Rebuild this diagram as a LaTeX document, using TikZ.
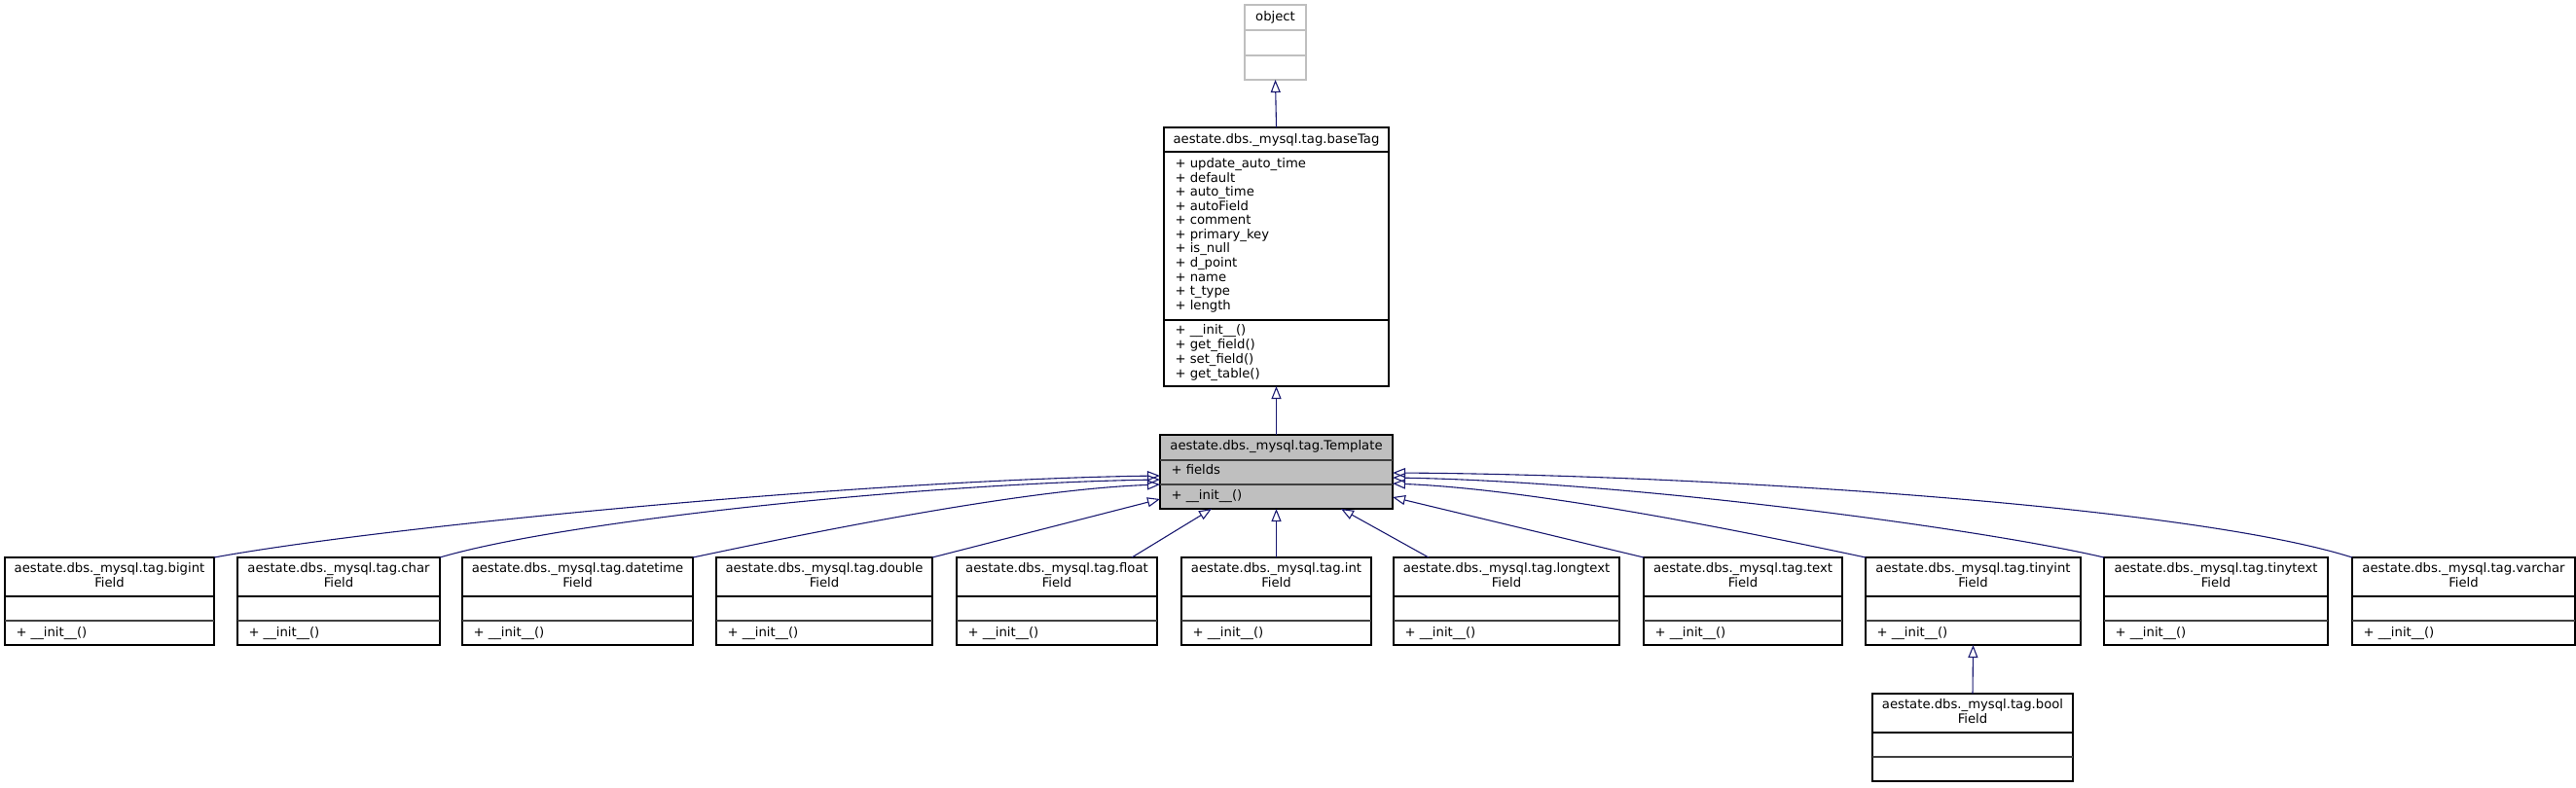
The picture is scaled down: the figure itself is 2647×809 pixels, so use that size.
\documentclass[tikz,border=0pt]{standalone}
\usepackage{fontspec}
\setmainfont{DejaVu Sans}
\usetikzlibrary{arrows.meta,calc}
\definecolor{edgeblue}{HTML}{191970}
\definecolor{tmplgray}{HTML}{BFBFBF}
\definecolor{objgray}{HTML}{BFBFBF}
\definecolor{divgray}{HTML}{404040}
\tikzset{
  cbox/.style={draw=black, line width=1.1pt, rectangle, inner sep=0pt, outer sep=0pt, anchor=north west},
  divline/.style={line width=1.1pt, draw=black},
  divline2/.style={line width=1.1pt, draw=divgray},
  txt/.style={inner sep=0pt, outer sep=0pt, font=\fontsize{13.2}{14.6}\selectfont},
  inherit/.style={draw=edgeblue, line width=1.1pt, -{Triangle[open, length=13pt, width=10pt]}},
}
\newcommand{\fieldbox}[5]{%
  \node[cbox, minimum width={#3-#2}, minimum height=90] (#1) at (#2,-#4) {};
  \draw[divline] ($(#1.north west)+(0,-40)$) -- ($(#1.north east)+(0,-40)$);
  \draw[divline2] ($(#1.north west)+(0,-65)$) -- ($(#1.north east)+(0,-65)$);
  \node[txt, anchor=base] (#1-t1) at ($(#1.north)+(0,-15.5)$) {aestate.dbs.\_mysql.tag.#5};
  \node[txt, anchor=base] (#1-t2) at ($(#1.north)+(0,-30)$) {Field};
}
\newcommand{\fieldmethod}[1]{%
  \node[txt, anchor=base west] (#1-m) at ($(#1.north west)+(11.5,-81)$) {+ \_\_init\_\_()};
}
\begin{document}
\begin{tikzpicture}[x=1pt,y=1pt]
\useasboundingbox (0,0) rectangle (2647,-809);

% object
\node[cbox, draw=objgray, minimum width=63, minimum height=77] (object) at (1279,-5) {};
\draw[line width=1.1pt, draw=objgray] ($(object.north west)+(0,-26)$) -- ($(object.north east)+(0,-26)$);
\draw[line width=1.1pt, draw=objgray] ($(object.north west)+(0,-52)$) -- ($(object.north east)+(0,-52)$);
\node[txt, anchor=base] (object-t) at ($(object.north)+(0,-16)$) {object};

% baseTag
\node[cbox, minimum width=231, minimum height=266] (basetag) at (1196,-131) {};
\draw[divline] ($(basetag.north west)+(0,-25)$) -- ($(basetag.north east)+(0,-25)$);
\draw[divline] ($(basetag.north west)+(0,-198)$) -- ($(basetag.north east)+(0,-198)$);
\node[txt, anchor=base] (basetag-t) at ($(basetag.north)+(0,-16)$) {aestate.dbs.\_mysql.tag.baseTag};
\foreach \t [count=\i from 0] in {update\_auto\_time, default, auto\_time, autoField, comment, primary\_key, is\_null, d\_point, name, t\_type, length}
  \node[txt, anchor=base west] (basetag-a\i) at ($(basetag.north west)+(11.5,{-41.5-14.57*\i})$) {+ \t};
\foreach \t [count=\i from 0] in {\_\_init\_\_(), get\_field(), set\_field(), get\_table()}
  \node[txt, anchor=base west] (basetag-m\i) at ($(basetag.north west)+(11.5,{-212.5-14.9*\i})$) {+ \t};

% Template
\node[cbox, fill=tmplgray, minimum width=239, minimum height=76] (tmpl) at (1192,-447) {};
\draw[divline2] ($(tmpl.north west)+(0,-26)$) -- ($(tmpl.north east)+(0,-26)$);
\draw[divline2] ($(tmpl.north west)+(0,-51)$) -- ($(tmpl.north east)+(0,-51)$);
\node[txt, anchor=base] (tmpl-t) at ($(tmpl.north)+(0,-15.8)$) {aestate.dbs.\_mysql.tag.Template};
\node[txt, anchor=base west] (tmpl-a) at ($(tmpl.north west)+(11.5,-40.3)$) {+ fields};
\node[txt, anchor=base west] (tmpl-m) at ($(tmpl.north west)+(11.5,-66)$) {+ \_\_init\_\_()};

% bottom row
\fieldbox{bigint}{5}{220}{573}{bigint}\fieldmethod{bigint}
\fieldbox{char}{244}{452}{573}{char}\fieldmethod{char}
\fieldbox{datetime}{475}{712}{573}{datetime}\fieldmethod{datetime}
\fieldbox{double}{736}{958}{573}{double}\fieldmethod{double}
\fieldbox{float}{983}{1189}{573}{float}\fieldmethod{float}
\fieldbox{int}{1214}{1409}{573}{int}\fieldmethod{int}
\fieldbox{longtext}{1432}{1664}{573}{longtext}\fieldmethod{longtext}
\fieldbox{text}{1689}{1893}{573}{text}\fieldmethod{text}
\fieldbox{tinyint}{1917}{2138}{573}{tinyint}\fieldmethod{tinyint}
\fieldbox{tinytext}{2162}{2392}{573}{tinytext}\fieldmethod{tinytext}
\fieldbox{varchar}{2417}{2646}{573}{varchar}\fieldmethod{varchar}
\fieldbox{bool}{1924}{2130}{713}{bool}

% attachment points on Template
\coordinate (tL1) at ($(tmpl.north west)+(0,-42)$);
\coordinate (tL2) at ($(tmpl.north west)+(0,-46)$);
\coordinate (tL3) at ($(tmpl.north west)+(0,-51)$);
\coordinate (tL4) at ($(tmpl.north west)+(0,-66)$);
\coordinate (tR1) at ($(tmpl.north east)+(0,-39)$);
\coordinate (tR2) at ($(tmpl.north east)+(0,-44)$);
\coordinate (tR3) at ($(tmpl.north east)+(0,-50)$);
\coordinate (tR4) at ($(tmpl.north east)+(0,-64)$);
\coordinate (tB1) at ($(tmpl.south west)+(53,0)$);
\coordinate (tB2) at ($(tmpl.south west)+(186,0)$);
\coordinate (float-s) at ($(float.north west)+(180,0)$);
\coordinate (longtext-s) at ($(longtext.north west)+(36,0)$);

% edges
\draw[inherit] (basetag.north) -- (object.south);
\draw[inherit] (tmpl.north) -- (basetag.south);
\draw[inherit] (bigint.north east) .. controls (400,-540) and (900,-493) .. (tL1);
\draw[inherit] (char.north east) .. controls (580,-535) and (950,-497) .. (tL2);
\draw[inherit] (datetime.north east) .. controls (830,-548) and (1050,-503) .. (tL3);
\draw[inherit] (double.north east) -- (tL4);
\draw[inherit] (float-s) -- (tB1);
\draw[inherit] (int.north) -- (tmpl.south);
\draw[inherit] (longtext-s) -- (tB2);
\draw[inherit] (text.north west) -- (tR4);
\draw[inherit] (tinyint.north west) .. controls (1800,-548) and (1580,-503) .. (tR3);
\draw[inherit] (tinytext.north west) .. controls (2034,-543) and (1673,-495) .. (tR2);
\draw[inherit] (varchar.north west) .. controls (2250,-520) and (1750,-488) .. (tR1);
\draw[inherit] (bool.north) -- (tinyint.south);
\end{tikzpicture}
\end{document}
